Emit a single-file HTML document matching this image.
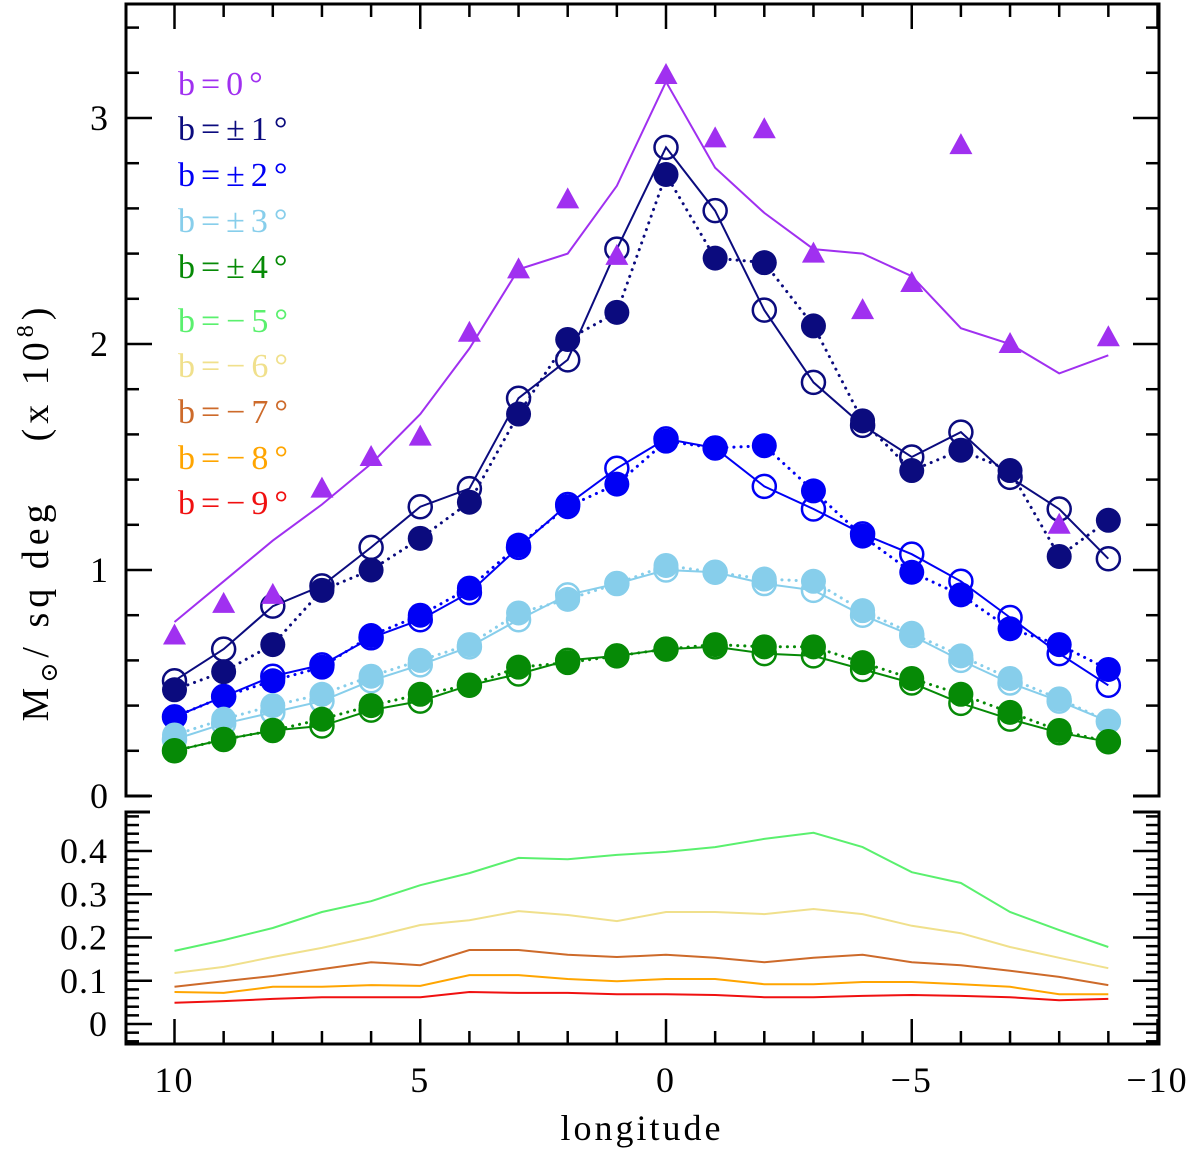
<!DOCTYPE html>
<html><head><meta charset="utf-8"><style>
body{margin:0;background:#fff}
svg text{font-family:"Liberation Serif","DejaVu Serif",serif}
</style></head><body>
<svg id="c" width="1200" height="1152" xmlns="http://www.w3.org/2000/svg"></svg>
<script>
const lon=[10,9,8,7,6,5,4,3,2,1,0,-1,-2,-3,-4,-5,-6,-7,-8,-9];
const b0Tri=[0.71,0.85,0.89,1.36,1.50,1.59,2.05,2.33,2.64,2.39,3.19,2.91,2.95,2.40,2.15,2.27,2.88,2.00,1.20,2.03];
const b0Line=[0.77,0.95,1.13,1.29,1.47,1.69,1.98,2.33,2.40,2.70,3.16,2.78,2.58,2.42,2.40,2.30,2.07,2.00,1.87,1.95];
const b1Open=[0.51,0.65,0.84,0.93,1.10,1.28,1.36,1.76,1.93,2.42,2.87,2.59,2.15,1.83,1.64,1.50,1.61,1.41,1.27,1.05];
const b1Fill=[0.47,0.55,0.67,0.91,1.00,1.14,1.30,1.69,2.02,2.14,2.75,2.38,2.36,2.08,1.66,1.44,1.53,1.44,1.06,1.22];
const b2Open=[0.35,0.44,0.53,0.58,0.70,0.78,0.90,1.10,1.29,1.45,1.58,1.54,1.37,1.27,1.16,1.07,0.95,0.79,0.63,0.49];
const b2Fill=[0.35,0.44,0.51,0.57,0.71,0.80,0.92,1.11,1.28,1.38,1.57,1.54,1.55,1.35,1.15,0.99,0.89,0.74,0.67,0.56];
const b3Open=[0.25,0.32,0.37,0.42,0.51,0.58,0.66,0.78,0.89,0.94,1.00,0.99,0.94,0.91,0.80,0.71,0.60,0.50,0.42,0.33];
const b3Fill=[0.27,0.34,0.40,0.45,0.53,0.60,0.67,0.81,0.87,0.94,1.02,0.99,0.96,0.95,0.82,0.72,0.62,0.52,0.43,0.33];
const b4Open=[0.20,0.25,0.29,0.31,0.38,0.42,0.49,0.54,0.60,0.62,0.65,0.66,0.63,0.62,0.56,0.50,0.41,0.34,0.28,0.24];
const b4Fill=[0.20,0.25,0.29,0.34,0.40,0.45,0.49,0.57,0.59,0.62,0.65,0.67,0.66,0.66,0.59,0.52,0.45,0.37,0.29,0.24];
const b5=[0.169,0.194,0.222,0.259,0.284,0.321,0.349,0.384,0.381,0.391,0.398,0.409,0.428,0.442,0.409,0.351,0.326,0.259,0.217,0.178];
const b6=[0.118,0.132,0.155,0.176,0.201,0.229,0.240,0.261,0.252,0.238,0.259,0.259,0.254,0.266,0.254,0.227,0.210,0.178,0.153,0.129];
const b7=[0.086,0.099,0.111,0.127,0.143,0.136,0.171,0.171,0.160,0.155,0.160,0.153,0.143,0.153,0.160,0.143,0.136,0.123,0.109,0.090];
const b8=[0.074,0.072,0.086,0.086,0.090,0.088,0.113,0.113,0.104,0.099,0.104,0.104,0.092,0.092,0.097,0.097,0.092,0.086,0.069,0.069];
const b9=[0.049,0.053,0.058,0.062,0.062,0.062,0.074,0.072,0.072,0.069,0.069,0.067,0.062,0.062,0.065,0.067,0.065,0.062,0.055,0.058];
const xTicks=[10,5,0,-5,-10];
const yTicksTop=[0,1,2,3];
const yTicksBot=[0,0.1,0.2,0.3,0.4];

const svg=document.getElementById('c');
const NS='http://www.w3.org/2000/svg';
const X=l=>666-l*49.15;
const Yt=v=>796-v*226;
const Yb=v=>1024-v*432.5;
function el(tag,at,parent){const e=document.createElementNS(NS,tag);for(const k in at)e.setAttribute(k,at[k]);(parent||svg).appendChild(e);return e;}
function line(x1,y1,x2,y2){return el('line',{x1,y1,x2,y2,stroke:'#000','stroke-width':2.5});}

const f1=el('path',{d:'M150,796 H126 V4 H1159 V796 H1133',fill:'none',stroke:'#000','stroke-width':3});


const f2=el('path',{d:'M150,812 H126 V1044 H1159 V812 H1133',fill:'none',stroke:'#000','stroke-width':3});



for(let l=10;l>=-10;l--){
  const x=X(l);const maj=(l%5===0);
  const L=maj?25:13;
  line(x,4,x,4+L);
  line(x,1044,x,1044-L);
}
xTicks.forEach(v=>{
  const t=el('text',{x:X(v),y:1092,'font-size':36,'text-anchor':'middle','letter-spacing':'2'});
  t.textContent=v<0?'\u2212'+(-v):String(v);
  
  
});
for(let i=0;i<=17;i++){
  const v=i*0.2;const y=Yt(v);if(y<6)continue;
  const maj=Math.abs(v-Math.round(v))<1e-6;const L=maj?26:13;
  line(126,y,126+L,y);line(1159,y,1159-L,y);
}
yTicksTop.forEach(v=>{
  const t=el('text',{x:108,y:Yt(v)+12,'font-size':36,'text-anchor':'end'});
  t.textContent=String(v);
  
  
});
for(let i=-2;i<=24;i++){
  const v=i*0.02;const y=Yb(v);if(y>1042||y<813)continue;
  const maj=(i%5===0);const L=maj?26:13;
  line(126,y,126+L,y);line(1159,y,1159-L,y);
}
yTicksBot.forEach(v=>{
  const t=el('text',{x:108,y:Yb(v)+12,'font-size':36,'text-anchor':'end','letter-spacing':'1'});
  t.textContent=v===0?'0':v.toFixed(1);
  
  
});
const xt=el('text',{x:642,y:1140,'font-size':36,'text-anchor':'middle','letter-spacing':'3'});
xt.textContent='longitude';


const yt=el('text',{x:0,y:0,'font-size':38,'text-anchor':'middle',transform:'translate(48,512) rotate(-90)','letter-spacing':'5',style:'white-space:pre'});
yt.innerHTML='M<tspan font-size="24" dy="9">\u2299</tspan><tspan dy="-9">/ sq deg    (x 10</tspan><tspan font-size="24" dy="-15">8</tspan><tspan dy="15">)</tspan>';



function path(vals,Y,color,w,dash,name){
  const d=vals.map((v,i)=>(i?'L':'M')+X(lon[i]).toFixed(1)+','+Y(v).toFixed(1)).join(' ');
  const p=el('path',{d,fill:'none',stroke:color,'stroke-width':w});
  if(dash)p.setAttribute('stroke-dasharray',dash);
  if(dash)p.setAttribute('stroke-linecap','round');
  
  
}
function circles(vals,color,filled,name){
  vals.forEach((v,i)=>{
    const c=el('circle',{cx:X(lon[i]),cy:Yt(v),r:filled?12.5:11.5,fill:filled?color:'none',stroke:color,'stroke-width':filled?0:2.5});
    
    
  });
}
const series=[
 ['#0b0b7e',b1Open,b1Fill,'b1'],
 ['#0000f5',b2Open,b2Fill,'b2'],
 ['#87ceeb',b3Open,b3Fill,'b3'],
 ['#068a06',b4Open,b4Fill,'b4']
];
series.forEach(([c,o,f,n])=>{
  path(o,Yt,c,2,null,n+'-line-open');
  path(f,Yt,c,3,'0.1 7',n+'-line-filled');
});
series.forEach(([c,o,f,n])=>{
  circles(o,c,false,n+'-open-point');
  circles(f,c,true,n+'-filled-point');
});
path(b0Line,Yt,'#a030f0',2,null,'b0-line');
b0Tri.forEach((v,i)=>{
  const x=X(lon[i]),y=Yt(v);
  const t=el('path',{d:`M${x},${y-12} L${x+11.5},${y+9} L${x-11.5},${y+9} Z`,fill:'#a030f0'});
  
  
});
path(b5,Yb,'#5af06e',2,null,'b-5-line');
path(b6,Yb,'#f0e08c',2,null,'b-6-line');
path(b7,Yb,'#cd6a2a',2,null,'b-7-line');
path(b8,Yb,'#ffa500',2,null,'b-8-line');
path(b9,Yb,'#f01010',2,null,'b-9-line');

const leg=[['b=0°','#a030f0',95],['b=\u00b11°','#0b0b7e',140],['b=\u00b12°','#0000f5',186],['b=\u00b13°','#87ceeb',232],['b=\u00b14°','#068a06',278],
['b=\u22125°','#5af06e',332],['b=\u22126°','#f0e08c',377],['b=\u22127°','#cd6a2a',423],['b=\u22128°','#ffa500',469],['b=\u22129°','#f01010',514]];
leg.forEach(([t,c,y])=>{
  const e=el('text',{x:178,y,'font-size':34,fill:c,'letter-spacing':'6'});
  e.textContent=t;
  
  
});
</script>
</body></html>
